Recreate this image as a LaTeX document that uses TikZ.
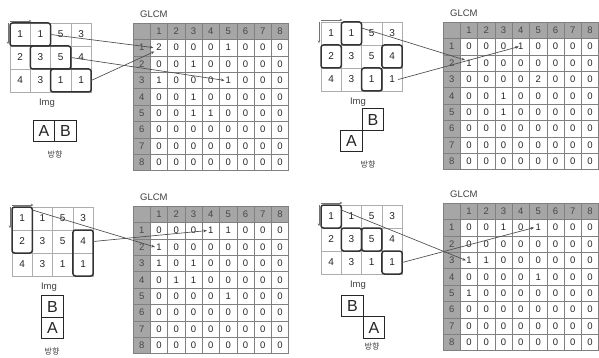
\documentclass[tikz,border=0pt]{standalone}
\usepackage{fontspec}
\setmainfont{Liberation Sans}
\newfontfamily\krfont{Noto Sans CJK KR}
\usetikzlibrary{arrows.meta}

\tikzset{
  imgcell/.style={draw=black!32, line width=0.55pt, minimum width=20.3pt, minimum height=23pt,
    inner sep=0pt, outer sep=0pt, font=\fontsize{10}{10}\selectfont, text=black!85},
  gcell/.style={draw=black!50, line width=0.5pt, minimum width=17.3pt, minimum height=16.4pt,
    inner sep=0pt, outer sep=0pt, font=\fontsize{9.5}{9.5}\selectfont, text=black!85},
  ghead/.style={gcell, fill=black!35, text=black!72},
  hl/.style={draw=black!80, line width=1.5pt, rounded corners=2.5pt},
  link/.style={draw=black!70, line width=0.65pt, -{Stealth[length=3.5pt,width=2.8pt]}},
  axisarrow/.style={draw=black!55, line width=0.8pt, -{Stealth[length=2.5pt,width=2.5pt]}},
  dirbox/.style={draw=black!85, line width=1.4pt, minimum width=21.5pt, minimum height=21.5pt,
    inner sep=0pt, outer sep=0pt, font=\fontsize{16}{16}\selectfont, text=black!85},
  caption/.style={font=\fontsize{9.5}{9.5}\selectfont, text=black!75, inner sep=0pt},
  krcap/.style={font=\krfont\fontsize{8}{8}\selectfont, text=black!75, inner sep=0pt},
}

% 3x4 input image: #1 prefix, #2/#3 top-left corner
\newcommand\ImgGrid[3]{%
  \foreach \vals [count=\r] in {{1,1,5,3},{2,3,5,4},{4,3,1,1}}
    \foreach \v [count=\c] in \vals
      \node[imgcell] (#1i-\r-\c) at ({#2+(\c-0.5)*20.3},{#3+(\r-0.5)*23}) {\v};
  \node[caption] (#1img) at ({#2+37},{#3+80}) {Img};
  \draw[axisarrow] ([yshift=2pt]#1i-1-1.north west) -- ([yshift=2pt,xshift=1pt]#1i-1-1.north east);
  \draw[axisarrow] ([xshift=-2pt]#1i-1-1.north west) -- ([xshift=-2pt,yshift=2pt]#1i-1-1.south west);
}

% 8x8 co-occurrence matrix with header row/column: #1 prefix, #2/#3 top-left, #4 body rows
\newcommand\GlcmGrid[4]{%
  \node[ghead] (#1g-0-0) at ({#2+0.5*17.3},{#3+0.5*16.4}) {};
  \foreach \c in {1,...,8} {
    \node[ghead] (#1g-0-\c) at ({#2+(\c+0.5)*17.3},{#3+0.5*16.4}) {\c};
    \node[ghead] (#1g-\c-0) at ({#2+0.5*17.3},{#3+(\c+0.5)*16.4}) {\c};
  }
  \foreach \vals [count=\r] in {#4}
    \foreach \v [count=\c] in \vals
      \node[gcell] (#1g-\r-\c) at ({#2+(\c+0.5)*17.3},{#3+(\r+0.5)*16.4}) {\v};
  \node[caption, anchor=west] (#1glcm) at ({#2+7},{#3-9}) {GLCM};
}

\begin{document}
\begin{tikzpicture}[x=1pt, y=-1pt]
\useasboundingbox[fill=white] (0,0) rectangle (599,358);

% ---------- horizontal neighbour (A B) ----------
\ImgGrid{p1}{10}{23}
\GlcmGrid{p1}{133}{23}{{2,0,0,0,1,0,0,0},{0,0,1,0,0,0,0,0},{1,0,0,0,1,0,0,0},{0,0,1,0,0,0,0,0},
  {0,0,1,1,0,0,0,0},{0,0,0,0,0,0,0,0},{0,0,0,0,0,0,0,0},{0,0,0,0,0,0,0,0}}
\draw[hl] (p1i-1-1.north west) rectangle (p1i-1-2.south east);
\draw[hl] (p1i-2-2.north west) rectangle (p1i-2-3.south east);
\draw[hl] (p1i-3-3.north west) rectangle (p1i-3-4.south east);
\draw[link] (p1i-1-2.east) -- ([xshift=3pt]p1g-1-1.west);
\draw[link] (p1i-2-3.east) -- ([xshift=5pt]p1g-3-5.west);
\draw[link] (p1i-3-4.east) -- ([xshift=4pt,yshift=-4pt]p1g-1-1.west);
\node[dirbox] (p1a) at (44,131) {A};
\node[dirbox] (p1b) at (65.5,131) {B};
\node[krcap] (p1dir) at (55,154) {방향};

% ---------- diagonal neighbour (B up-right of A) ----------
\ImgGrid{p2}{321}{22}
\GlcmGrid{p2}{443}{22}{{0,0,0,1,0,0,0,0},{1,0,0,0,0,0,0,0},{0,0,0,0,2,0,0,0},{0,0,1,0,0,0,0,0},
  {0,0,1,0,0,0,0,0},{0,0,0,0,0,0,0,0},{0,0,0,0,0,0,0,0},{0,0,0,0,0,0,0,0}}
\draw[hl] (p2i-1-2.north west) rectangle (p2i-1-2.south east);
\draw[hl] (p2i-2-1.north west) rectangle (p2i-2-1.south east);
\draw[hl] (p2i-2-4.north west) rectangle (p2i-2-4.south east);
\draw[hl] (p2i-3-3.north west) rectangle (p2i-3-3.south east);
\draw[link] ([yshift=-6pt]p2i-1-2.north east) -- ([xshift=-4pt,yshift=3pt]p2g-2-1.center);
\draw[link] ([xshift=-4pt]p2i-3-4.east) -- ([xshift=-2pt]p2g-1-4.center);
\node[dirbox] (p2b) at (373,119.5) {B};
\node[dirbox] (p2a) at (351.5,141) {A};
\node[krcap] (p2dir) at (368,164) {방향};

% ---------- vertical neighbour (B above A) ----------
\ImgGrid{p3}{12}{207}
\GlcmGrid{p3}{133}{206}{{0,0,0,1,1,0,0,0},{1,0,0,0,0,0,0,0},{1,0,1,0,0,0,0,0},{0,1,1,0,0,0,0,0},
  {0,0,0,0,1,0,0,0},{0,0,0,0,0,0,0,0},{0,0,0,0,0,0,0,0},{0,0,0,0,0,0,0,0}}
\draw[hl] (p3i-1-1.north west) rectangle (p3i-2-1.south east);
\draw[hl] (p3i-2-4.north west) rectangle (p3i-3-4.south east);
\draw[link] ([yshift=-3pt]p3i-1-1.north east) -- ([xshift=-4pt]p3g-2-1.center);
\draw[link] (p3i-2-4.east) -- ([xshift=-4pt]p3g-1-4.center);
\node[dirbox] (p3b) at (52.5,306.5) {B};
\node[dirbox] (p3a) at (52.5,328) {A};
\node[krcap] (p3dir) at (52,351) {방향};

% ---------- diagonal neighbour (B up-left of A) ----------
\ImgGrid{p4}{321}{205}
\GlcmGrid{p4}{443}{203}{{0,0,1,0,1,0,0,0},{0,0,0,0,0,0,0,0},{1,1,0,0,0,0,0,0},{0,0,0,0,1,0,0,0},
  {1,0,0,0,0,0,0,0},{0,0,0,0,0,0,0,0},{0,0,0,0,0,0,0,0},{0,0,0,0,0,0,0,0}}
\draw[hl] (p4i-1-1.north west) rectangle (p4i-1-1.south east);
\draw[hl] (p4i-2-2.north west) rectangle (p4i-2-2.south east);
\draw[hl] (p4i-2-3.north west) rectangle (p4i-2-3.south east);
\draw[hl] (p4i-3-4.north west) rectangle (p4i-3-4.south east);
\draw[link] ([yshift=-5pt]p4i-1-1.north east) -- ([xshift=-3pt]p4g-3-1.center);
\draw[link] (p4i-3-4.east) -- ([xshift=-4pt]p4g-1-5.center);
\node[dirbox] (p4b) at (352.5,306) {B};
\node[dirbox] (p4a) at (374,327.5) {A};
\node[krcap] (p4dir) at (372,346) {방향};
\end{tikzpicture}
\end{document}
